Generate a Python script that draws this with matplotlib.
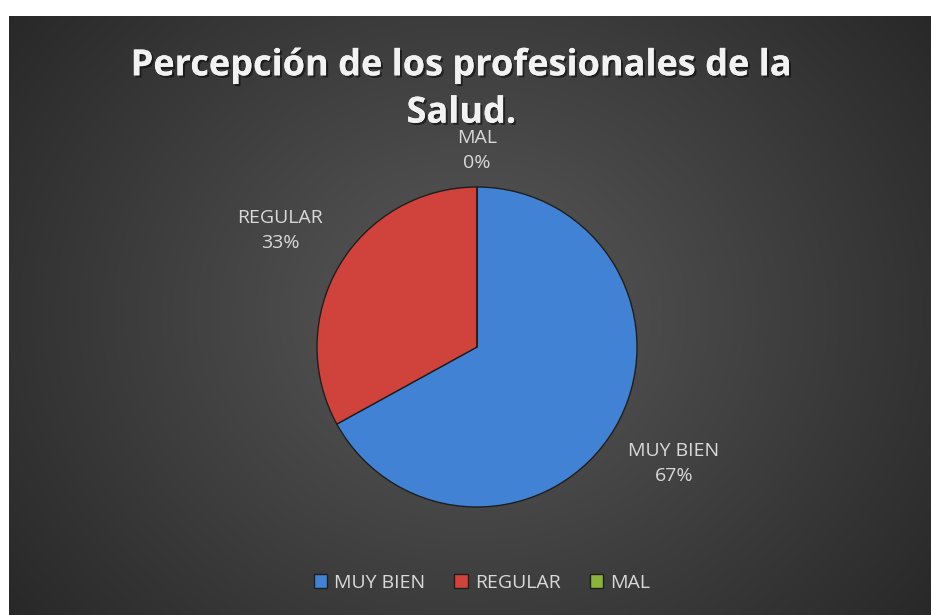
import numpy as np
import matplotlib.pyplot as plt
import matplotlib.patheffects as pe

# datos
categorias = ["MUY BIEN", "REGULAR", "MAL"]
porcentajes = [67, 33, 0]
colores = ["#4282d4", "#d0433d", "#8cb33a"]
titulo = "Percepción de los profesionales de la\nSalud."

W, H = 931, 615
fig = plt.figure(figsize=(W / 100, H / 100), dpi=100, facecolor="white")
ax = fig.add_axes([0, 0, 1, 1])

# fondo con degradado radial
yy, xx = np.mgrid[0:300, 0:460]
d = np.sqrt(((xx - 230) / 300.0) ** 2 + ((yy - 150) / 260.0) ** 2)
d = np.clip(d, 0, 1)
gris = 0.35 - 0.2 * d
img = np.dstack([gris, gris, gris])
ax.imshow(img, extent=(9, W, 0, H - 16), origin="lower", zorder=0, aspect="auto")

# pastel
cx, cy, r = 477, H - 347, 160
wedges, _ = ax.pie(porcentajes, colors=colores, startangle=90, counterclock=False,
                   center=(cx, cy), radius=r, frame=True,
                   wedgeprops=dict(edgecolor="#1e1e1e", linewidth=1.0))
ax.set_xlim(0, W)
ax.set_ylim(0, H)
ax.set_aspect("equal")
ax.axis("off")

for w, cat, p in zip(wedges, categorias, porcentajes):
    ang = np.deg2rad((w.theta1 + w.theta2) / 2)
    dist = 1.43 if p > 0 else 1.23
    x = cx + dist * r * np.cos(ang)
    y = cy + dist * r * np.sin(ang)
    ax.text(x, y, f"{cat}\n{p}%", ha="center", va="center", color="#d9d9d9",
            fontsize=14, family="Open Sans", linespacing=1.5, zorder=5)

ax.text(W / 2 - 4, H - 90, titulo, ha="center", va="center", color="#f2f2f2",
        fontsize=26, fontweight="bold", family="Open Sans", linespacing=1.42,
        path_effects=[pe.withSimplePatchShadow(offset=(1.5, -1.5), shadow_rgbFace="black", alpha=0.5), pe.Normal()],
        zorder=5)

leg = ax.legend(wedges, categorias, loc="center", bbox_to_anchor=(482 / W, (H - 583) / H),
                ncol=3, frameon=False, handlelength=0.7, handleheight=0.7,
                handletextpad=0.35, columnspacing=1.5,
                prop={"family": "Open Sans", "size": 14})
for t in leg.get_texts():
    t.set_color("#d9d9d9")

fig.savefig("out.png", dpi=100, facecolor="white")
